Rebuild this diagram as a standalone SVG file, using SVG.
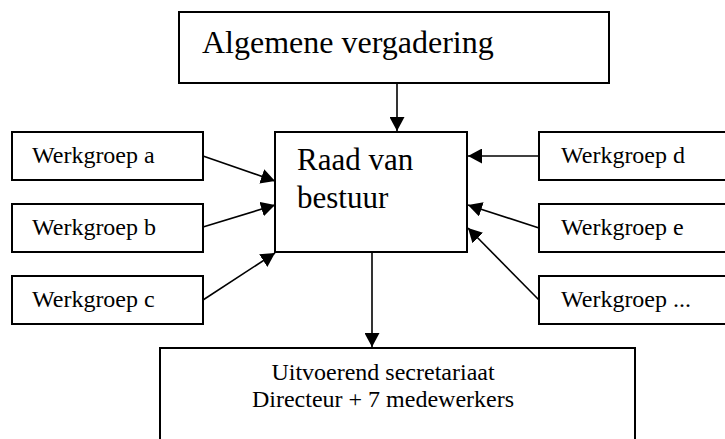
<svg xmlns="http://www.w3.org/2000/svg" width="725" height="439" viewBox="0 0 725 439">
<defs>
<style>
.box{fill:#fff;stroke:#000;stroke-width:2}
.t{font-family:"Liberation Serif","Times New Roman",serif;fill:#000}
.w{font-size:24px}
.c{stroke:#000;stroke-width:1.6;fill:none;marker-end:url(#ah)}
</style>
<marker id="ah" viewBox="0 0 14 15" refX="14" refY="7.5" markerWidth="14" markerHeight="15" markerUnits="userSpaceOnUse" orient="auto">
<path d="M0,0 L14,7.5 L0,15 z" fill="#000"/>
</marker>
</defs>
<rect width="725" height="439" fill="#fff"/>
<g id="algemene-vergadering">
<rect class="box" x="179" y="12" width="430" height="71"/>
<text class="t" x="202" y="53" font-size="32">Algemene vergadering</text>
</g>
<g id="raad-van-bestuur">
<rect class="box" x="275" y="132" width="192" height="120"/>
<text class="t" x="297" y="170" font-size="31">Raad van</text>
<text class="t" x="297" y="208" font-size="31">bestuur</text>
</g>
<g id="werkgroep-a">
<rect class="box" x="12" y="132" width="191" height="48"/>
<text class="t w" x="32" y="163">Werkgroep a</text>
</g>
<g id="werkgroep-b">
<rect class="box" x="12" y="204" width="191" height="48"/>
<text class="t w" x="32" y="235">Werkgroep b</text>
</g>
<g id="werkgroep-c">
<rect class="box" x="12" y="276" width="191" height="48"/>
<text class="t w" x="32" y="307">Werkgroep c</text>
</g>
<g id="werkgroep-d">
<rect class="box" x="539" y="132" width="192" height="48"/>
<text class="t w" x="561" y="163">Werkgroep d</text>
</g>
<g id="werkgroep-e">
<rect class="box" x="539" y="204" width="192" height="48"/>
<text class="t w" x="561" y="235">Werkgroep e</text>
</g>
<g id="werkgroep-etc">
<rect class="box" x="539" y="276" width="192" height="48"/>
<text class="t w" x="561" y="307">Werkgroep ...</text>
</g>
<g id="uitvoerend-secretariaat">
<rect class="box" x="160" y="348" width="475" height="100"/>
<text class="t w" x="383" y="380" text-anchor="middle">Uitvoerend secretariaat</text>
<text class="t w" x="383" y="407" text-anchor="middle">Directeur + 7 medewerkers</text>
</g>
<g id="connectors">
<line class="c" x1="397" y1="83" x2="397" y2="131"/>
<line class="c" x1="203" y1="156" x2="275" y2="181"/>
<line class="c" x1="203" y1="227" x2="275" y2="205"/>
<line class="c" x1="203" y1="300" x2="275" y2="253"/>
<line class="c" x1="539" y1="156" x2="468" y2="156"/>
<line class="c" x1="539" y1="228" x2="468" y2="205"/>
<line class="c" x1="539" y1="300" x2="468" y2="228"/>
<line class="c" x1="372" y1="252" x2="372" y2="347"/>
</g>
</svg>
